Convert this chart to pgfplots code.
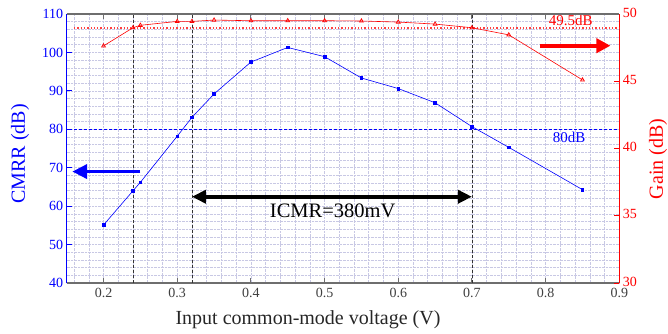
\documentclass[border=0pt]{standalone}
\usepackage{pgfplots}
\pgfplotsset{compat=1.18}
\usepackage{fontspec}
\setmainfont{Liberation Serif}
\usetikzlibrary{arrows.meta}
\definecolor{gridc}{RGB}{200,200,228}
\definecolor{axgray}{RGB}{110,110,110}
\definecolor{myblue}{RGB}{0,0,255}
\definecolor{myred}{RGB}{255,0,0}

\begin{document}
\begin{tikzpicture}
\pgfplotsset{
  base/.style={
    scale only axis, width=552.6pt, height=269pt,
    xmin=0.15, xmax=0.9,
    at={(0,0)}, anchor=south west,
    separate axis lines,
    tick align=inside,
    major tick length=5pt,
    minor tick length=0pt,
    /pgf/number format/assume math mode=true,
    tick label style={font=\fontsize{14}{16}\selectfont},
    label style={font=\fontsize{20}{24}\selectfont},
    xtick={0.2,0.3,0.4,0.5,0.6,0.7,0.8,0.9},
    xticklabel style={/pgf/number format/fixed, /pgf/number format/precision=1},
  }
}
\begin{axis}[base,
  axis x line*=bottom, axis y line*=left,
  ymin=40, ymax=110, ytick={40,50,...,110},
  minor xtick={0.16,0.18,0.22,0.24,0.26,0.28,0.32,0.34,0.36,0.38,0.42,0.44,0.46,0.48,0.52,0.54,0.56,0.58,0.62,0.64,0.66,0.68,0.72,0.74,0.76,0.78,0.82,0.84,0.86,0.88},
  minor ytick={42,44,46,48,52,54,56,58,62,64,66,68,72,74,76,78,82,84,86,88,92,94,96,98,102,104,106,108},
  grid=both,
  major grid style={gridc, densely dotted, line width=0.6pt},
  minor grid style={gridc, densely dotted, line width=0.6pt},
  x axis line style={axgray, line width=1.2pt, -},
  y axis line style={myblue, line width=1.2pt, -},
  xtick style={axgray, line width=1pt},
  ytick style={myblue, line width=1pt},
  xticklabel style={text=black!75, yshift=-2pt},
  yticklabel style={text=myblue},
  ylabel={CMRR (dB)},
  ylabel style={text=myblue, at={(axis description cs:-0.0845,0.48)}, anchor=center},
  xlabel={Input common-mode voltage (V)},
  xlabel style={text=black!85, at={(axis description cs:0.4367,-0.1375)}, anchor=center},
  clip=false,
]
\addplot[black!80, densely dashed, line width=0.6pt] coordinates {(0.24,40) (0.24,110)};
\addplot[black!80, densely dashed, line width=0.6pt] coordinates {(0.32,40) (0.32,110)};
\addplot[black!80, densely dashed, line width=0.6pt] coordinates {(0.70,40) (0.70,110)};
\addplot[myblue, densely dashed, line width=0.6pt] coordinates {(0.16,80) (0.9,80)};
\addplot[myblue, line width=0.6pt, mark=square*, mark size=1.3pt] coordinates {
(0.20,55.1) (0.24,64.0) (0.25,66.2) (0.30,78.2) (0.32,83.1) (0.35,89.2)
(0.40,97.5) (0.45,101.3) (0.50,98.9) (0.55,93.35) (0.60,90.6) (0.65,86.9)
(0.70,80.7) (0.75,75.3) (0.85,64.3)};
\draw[myblue, line width=3.8pt, -{Triangle[length=15pt, width=14pt]}] (axis cs:0.25,69) -- (axis cs:0.1575,69);
\draw[myred, line width=3.8pt, -{Triangle[length=14pt, width=14pt]}] (axis cs:0.793,101.75) -- (axis cs:0.888,101.75);
\draw[black, line width=3.8pt, {Triangle[length=14pt, width=13pt]}-{Triangle[length=14pt, width=13pt]}] (axis cs:0.32,62.45) -- (axis cs:0.70,62.45);
\node[font=\fontsize{20.5}{24}\selectfont] at (axis cs:0.511,58.7) {ICMR=380mV};
\node[text=myblue, font=\fontsize{15}{18}\selectfont] at (axis cs:0.832,77.8) {80dB};
\node[text=myred, font=\fontsize{15}{18}\selectfont] at (axis cs:0.834,108.26) {49.5dB};
\end{axis}
\begin{axis}[base,
  axis x line*=top, axis y line*=right,
  ymin=30, ymax=50, ytick={30,35,...,50},
  xticklabels={},
  x axis line style={axgray, line width=1.2pt, -},
  y axis line style={myred, line width=1.2pt, -},
  xtick style={axgray, line width=1pt},
  ytick style={myred, line width=1pt},
  yticklabel style={text=myred, text depth=0pt, yshift=1.5pt},
  ylabel={Gain (dB)},
  ylabel style={text=myred, at={(axis description cs:1.07,0.461)}, anchor=center},
]
\addplot[myred!75, dotted, line width=1.3pt] coordinates {(0.16,48.95) (0.9,48.95)};
\addplot[myred, line width=0.6pt, mark=triangle, mark size=2.2pt, mark options={solid, line width=0.7pt}] coordinates {
(0.20,47.63) (0.24,48.98) (0.25,49.16) (0.30,49.45) (0.32,49.45) (0.35,49.55)
(0.40,49.5) (0.45,49.5) (0.50,49.5) (0.55,49.48) (0.60,49.4) (0.65,49.25)
(0.70,48.98) (0.75,48.45) (0.85,45.1)};
\end{axis}
\pgfresetboundingbox
\path[use as bounding box] (-66.7pt,-50pt) rectangle (601.3pt,283pt);
\end{tikzpicture}
\end{document}
